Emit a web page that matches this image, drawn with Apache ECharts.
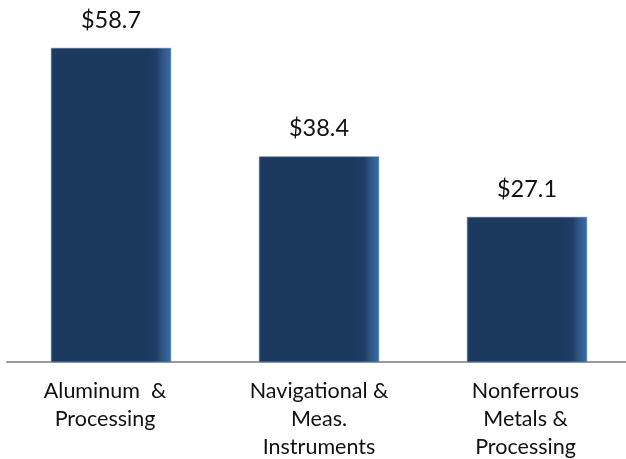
<!DOCTYPE html>
<html><head><meta charset="utf-8">
<script src="https://cdn.jsdelivr.net/npm/echarts@6/dist/echarts.min.js"></script>
<style>html,body{margin:0;padding:0;background:#fff}#c{width:626px;height:459px}</style>
</head><body><div id="c"></div>
<script>
const categories = ["Aluminum  &\nProcessing", "Navigational &\nMeas.\nInstruments", "Nonferrous\nMetals &\nProcessing"];
const values = [58.7, 38.4, 27.1];
const valueLabels = ["$58.7", "$38.4", "$27.1"];

// small per-label horizontal nudges (style only)
const labelRightPad = [12, 0, 3];

const chart = echarts.init(document.getElementById('c'));
const barColor = {
  type: 'linear', x: 0, y: 0, x2: 1, y2: 0,
  colorStops: [
    {offset: 0, color: '#22426a'},
    {offset: 0.03, color: '#1c3a5f'},
    {offset: 0.8, color: '#1c3a5f'},
    {offset: 0.88, color: '#213f66'},
    {offset: 0.94, color: '#2f5a8e'},
    {offset: 1, color: '#3d6aa3'}
  ]
};
chart.setOption({
  animation: false,
  grid: {left: 7, width: 624, top: 41, bottom: 97, containLabel: false, outerBoundsMode: 'none'},
  xAxis: {
    type: 'category',
    data: categories.map((c, i) => ({value: c, textStyle: {padding: [0, labelRightPad[i], 0, 0]}})),
    axisLine: {show: true, lineStyle: {color: '#9a9a9a', width: 2}},
    axisTick: {show: false},
    axisLabel: {color: '#111', fontFamily: 'Lato', fontSize: 21.5, lineHeight: 28, margin: 15, interval: 0}
  },
  yAxis: {type: 'value', min: 0, max: 60, show: false, splitLine: {show: false}},
  series: [{
    type: 'bar', data: values, barWidth: 120,
    itemStyle: {color: barColor, borderColor: '#4a6f9c', borderWidth: 0.5},
    label: {
      show: true, position: 'top', distance: 16,
      color: '#111', fontFamily: 'Lato', fontSize: 23.5,
      formatter: p => valueLabels[p.dataIndex]
    }
  }]
});
</script></body></html>
